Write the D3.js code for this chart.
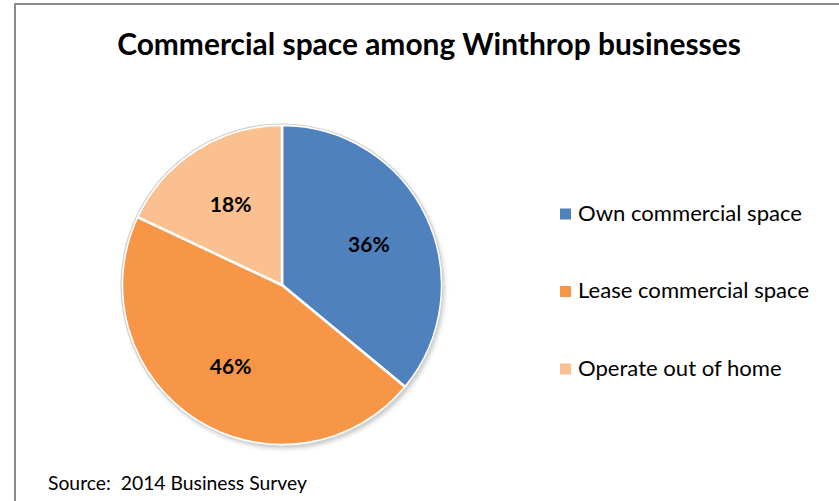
<!DOCTYPE html>
<html>
<head>
<meta charset="utf-8">
<script src="https://cdn.jsdelivr.net/npm/d3@7"></script>
<style>
  body { margin: 0; background: #fff; }
  svg { display: block; }
  text { font-family: Lato, "Open Sans", sans-serif; fill: #000; white-space: pre; }
</style>
</head>
<body>
<div id="chart"></div>
<script>
var svgWidth = 839, svgHeight = 501;

// data
var categories = ["Own commercial space", "Lease commercial space", "Operate out of home"];
var shares = [36, 46, 18];
var colors = ["#4f81bd", "#f79646", "#fac090"];
var titleText = "Commercial space among Winthrop businesses";
var sourceText = "Source:  2014 Business Survey";

var cx = 282, cy = 285, radius = 160;

var svg = d3.select("#chart")
  .append("svg")
  .attr("width", svgWidth)
  .attr("height", svgHeight);

// soft shadow under the pie
var defs = svg.append("defs");
defs.append("filter")
  .attr("id", "shadow")
  .attr("x", "-20%").attr("y", "-20%")
  .attr("width", "140%").attr("height", "140%")
  .append("feDropShadow")
  .attr("dx", 2).attr("dy", 3)
  .attr("stdDeviation", 2.5)
  .attr("flood-color", "#000")
  .attr("flood-opacity", 0.25);

// frame: top + left only
svg.append("path")
  .attr("d", "M15,501 L15,4 L839,4")
  .attr("fill", "none")
  .attr("stroke", "#8c8c8c")
  .attr("stroke-width", 2);

// make a text fit a measured width by adjusting font size
function fitText(sel, targetWidth) {
  var fs = parseFloat(sel.attr("font-size"));
  var w = sel.node().getComputedTextLength();
  if (w > 0) sel.attr("font-size", (fs * targetWidth / w).toFixed(2));
  return sel;
}

var title = svg.append("text")
  .attr("x", 429)
  .attr("y", 55)
  .attr("text-anchor", "middle")
  .attr("font-weight", "bold")
  .attr("font-size", 26)
  .text(titleText);
fitText(title, 624);

var pie = d3.pie().sort(null).value(d => d);
var arcs = pie(shares);

var arc = d3.arc().innerRadius(0).outerRadius(radius);
var labelArc = d3.arc().innerRadius(192).outerRadius(0);

var g = svg.append("g")
  .attr("transform", "translate(" + cx + "," + cy + ")");

g.append("circle")
  .attr("r", radius)
  .attr("fill", "#fff")
  .attr("filter", "url(#shadow)");

g.selectAll("path.slice")
  .data(arcs)
  .enter()
  .append("path")
  .attr("class", "slice")
  .attr("d", arc)
  .attr("fill", (d, i) => colors[i])
  .attr("stroke", "#fff")
  .attr("stroke-width", 2.5)
  .attr("stroke-linejoin", "round");

// thin grey rim round the pie
g.append("circle")
  .attr("r", radius + 1)
  .attr("fill", "none")
  .attr("stroke", "#d0d0d0")
  .attr("stroke-width", 1.2);

g.selectAll("text.pct")
  .data(arcs)
  .enter()
  .append("text")
  .attr("class", "pct")
  .attr("transform", d => "translate(" + labelArc.centroid(d) + ")")
  .attr("text-anchor", "middle")
  .attr("dy", "0.36em")
  .attr("font-weight", "bold")
  .attr("font-size", 21)
  .text(d => d.data + "%");

// legend
var legend = svg.append("g")
  .attr("transform", "translate(560,0)");

var legendY = d3.scalePoint()
  .domain(categories)
  .range([214, 369]);

var items = legend.selectAll("g")
  .data(categories)
  .enter()
  .append("g")
  .attr("transform", d => "translate(0," + legendY(d) + ")");

items.append("rect")
  .attr("x", 0)
  .attr("y", -5.5)
  .attr("width", 11)
  .attr("height", 11)
  .attr("fill", (d, i) => colors[i]);

var legendText = items.append("text")
  .attr("x", 18)
  .attr("y", 6.5)
  .attr("font-size", 20)
  .text(d => d);
fitText(d3.select(legendText.nodes()[0]), 224);
legendText.attr("font-size", d3.select(legendText.nodes()[0]).attr("font-size"));

var source = svg.append("text")
  .attr("x", 48)
  .attr("y", 490)
  .attr("font-size", 16)
  .text(sourceText);
fitText(source, 259);
</script>
</body>
</html>
